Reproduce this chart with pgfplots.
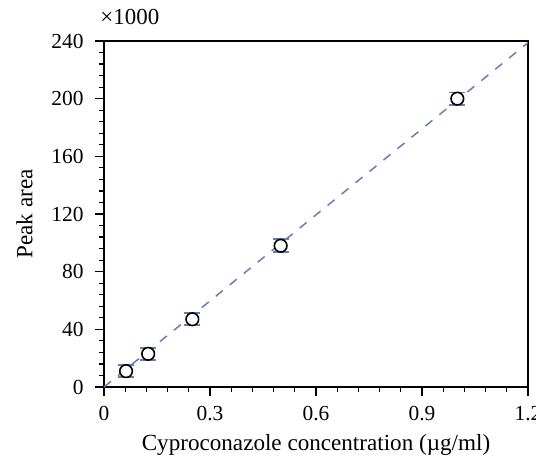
\documentclass[border=0pt]{standalone}
\usepackage{pgfplots}
\pgfplotsset{compat=1.18}
\usepackage{fontspec}
\setmainfont{Liberation Serif}
\definecolor{fitblue}{HTML}{6A7DB3}
\begin{document}
\begin{tikzpicture}
\useasboundingbox (-104bp,-82bp) rectangle (432bp,387bp);
\begin{axis}[
  at={(0,0)}, anchor=south west,
  scale only axis, width=424bp, height=346bp,
  xmin=0, xmax=1.2, ymin=0, ymax=240,
  axis line style={line width=1.6bp},
  xtick={0,0.3,0.6,0.9,1.2},
  xticklabels={0,0.3,0.6,0.9,1.2},
  ytick={0,40,80,120,160,200,240},
  minor x tick num=4, minor y tick num=4,
  tick align=outside,
  xtick pos=bottom, ytick pos=left,
  major tick length=9bp, minor tick length=5bp,
  tick style={line width=1.2bp, black},
  /pgf/number format/assume math mode=true,
  tick label style={font=\fontsize{21.5}{24}\selectfont},
  yticklabel style={xshift=-8bp},
  xticklabel style={yshift=-7bp},
  label style={font=\fontsize{23.2}{26}\selectfont},
  xlabel={Cyproconazole concentration (µg/ml)},
  ylabel={Peak area},
  xlabel style={yshift=-7bp},
  ylabel style={yshift=12bp},
  clip=false,
]
\addplot[fitblue, dashed, dash pattern=on 9bp off 9bp, line width=1.5bp] coordinates {(0,0) (1.2,238.8)};
\addplot[draw=none, mark=none, fitblue,
  error bars/.cd, y dir=both, y explicit,
  error bar style={line width=1.4bp, fitblue},
  error mark options={rotate=90, mark size=8bp, line width=1.6bp, fitblue}]
  coordinates {
  (0.0625,11) +- (0,4.2)
  (0.125,23) +- (0,4.2)
  (0.25,47) +- (0,4.2)
  (0.5,98) +- (0,4.5)
  (1.0,200) +- (0,4.2)
  };
\addplot[only marks, mark=*, mark size=6.3bp, mark options={fill=white, draw=black, line width=1.6bp}]
  coordinates {
  (0.0625,11) (0.125,23) (0.25,47) (0.5,98) (1.0,200)
  };
\node[font=\fontsize{23}{26}\selectfont] at (rel axis cs:0.061,1.068) {×1000};
\end{axis}
\end{tikzpicture}
\end{document}
